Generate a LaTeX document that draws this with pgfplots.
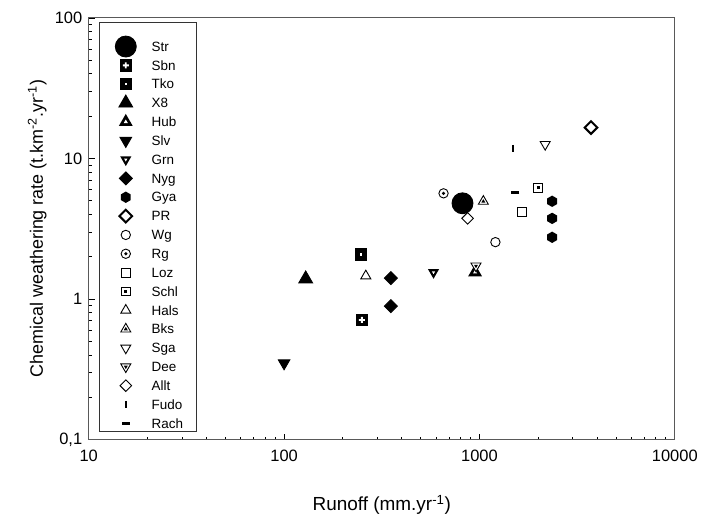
\documentclass[border=0pt]{standalone}
\usepackage{fontspec}
\setmainfont{Liberation Sans}
\usepackage{pgfplots}
\pgfplotsset{compat=1.18}

% triangle path, #1 = scale of the mark size
\newcommand\tripath[1]{%
  \pgfpathmoveto{\pgfpointscale{#1}{\pgfqpoint{0pt}{\pgfplotmarksize}}}%
  \pgfpathlineto{\pgfpointscale{#1}{\pgfqpoint{-.866\pgfplotmarksize}{-.5\pgfplotmarksize}}}%
  \pgfpathlineto{\pgfpointscale{#1}{\pgfqpoint{.866\pgfplotmarksize}{-.5\pgfplotmarksize}}}%
  \pgfpathclose}
\newcommand\sqpath[1]{%
  \pgfpathrectangle{\pgfpointscale{#1}{\pgfqpoint{-\pgfplotmarksize}{-\pgfplotmarksize}}}%
  {\pgfpointscale{#1}{\pgfqpoint{2\pgfplotmarksize}{2\pgfplotmarksize}}}}

\pgfdeclareplotmark{sqplus}{% filled square, white cross
  \sqpath{1}\pgfusepathqfill
  \pgfsetfillcolor{white}%
  \pgfpathrectangle{\pgfqpoint{-.48\pgfplotmarksize}{-.15\pgfplotmarksize}}{\pgfqpoint{.96\pgfplotmarksize}{.3\pgfplotmarksize}}%
  \pgfpathrectangle{\pgfqpoint{-.15\pgfplotmarksize}{-.48\pgfplotmarksize}}{\pgfqpoint{.3\pgfplotmarksize}{.96\pgfplotmarksize}}%
  \pgfusepathqfill}
\pgfdeclareplotmark{sqdot}{% filled square, white dot
  \sqpath{1}\pgfusepathqfill
  \pgfsetfillcolor{white}\sqpath{.2}\pgfusepathqfill}
\pgfdeclareplotmark{tridot}{% filled triangle, white centre
  \tripath{1}\pgfusepathqfill
  \pgfsetfillcolor{white}\tripath{.3}\pgfusepathqfill}
\pgfdeclareplotmark{hexagon*}{%
  \pgfpathmoveto{\pgfqpoint{0pt}{\pgfplotmarksize}}%
  \pgfpathlineto{\pgfqpoint{-.866\pgfplotmarksize}{.5\pgfplotmarksize}}%
  \pgfpathlineto{\pgfqpoint{-.866\pgfplotmarksize}{-.5\pgfplotmarksize}}%
  \pgfpathlineto{\pgfqpoint{0pt}{-\pgfplotmarksize}}%
  \pgfpathlineto{\pgfqpoint{.866\pgfplotmarksize}{-.5\pgfplotmarksize}}%
  \pgfpathlineto{\pgfqpoint{.866\pgfplotmarksize}{.5\pgfplotmarksize}}%
  \pgfpathclose\pgfusepathqfill}
\pgfdeclareplotmark{circdot}{% open circle, dot
  \pgfpathcircle{\pgfpointorigin}{\pgfplotmarksize}\pgfusepathqfillstroke
  \pgfsetfillcolor{black}%
  \pgfpathcircle{\pgfpointorigin}{.38\pgfplotmarksize}\pgfusepathqfill}
\pgfdeclareplotmark{sqodot}{% open square, dot
  \sqpath{1}\pgfusepathqfillstroke
  \pgfsetfillcolor{black}\sqpath{.3}\pgfusepathqfill}
\pgfdeclareplotmark{triotri}{% open triangle, small filled one
  \tripath{1}\pgfusepathqfillstroke
  \pgfsetfillcolor{black}\tripath{.4}\pgfusepathqfill}

\newcommand\lgt[1]{\makebox[40pt][l]{#1}}

\begin{document}
\begin{tikzpicture}
\begin{axis}[
  xmode=log, ymode=log,
  width=588pt, height=423pt, scale only axis,
  xmin=10, xmax=10000, ymin=0.1, ymax=100,
  xtick={10,100,1000,10000}, xticklabels={10,100,1000,10000},
  ytick={0.1,1,10,100}, yticklabels={{0,1},1,10,100},
  xtick pos=bottom, ytick pos=left, tick align=inside,
  major tick length=6pt, minor tick length=3pt,
  axis line style={black!65, line width=0.9pt},
  tick style={black, line width=0.8pt},
  tick label style={font=\fontsize{16.5}{19}\selectfont},
  xticklabel style={yshift=-7pt},
  yticklabel style={xshift=-3pt},
  xlabel={Runoff (mm.yr\textsuperscript{-1})},
  ylabel={Chemical weathering rate (t.km\textsuperscript{-2}.yr\textsuperscript{-1})},
  xlabel style={font=\fontsize{19}{22}\selectfont, at={(axis description cs:0.5,-0.1678)}, anchor=base},
  ylabel style={font=\fontsize{18}{21}\selectfont, at={(axis description cs:-0.0782,0.5)}, anchor=base},
  legend style={draw=none, fill=none, at={(axis description cs:0.0187,0.9439)},
    anchor=north west, inner xsep=0pt, inner ysep=0pt, row sep=9.4pt,
    nodes={inner sep=0pt, text height=9.5pt, text depth=0pt},
    font=\fontsize{13.5}{16}\selectfont},
  legend cell align=left,
  legend image code/.code={\draw[#1, overlay] plot coordinates {(26pt,0pt)};
    \path[draw=none, fill=none] (0pt,-4pt) rectangle (52pt,4pt);},
  every axis plot/.append style={only marks, black, line width=0.9pt},
]
\addplot[mark=*, mark size=10.5] coordinates {(819,4.8)};
\addlegendentry{\lgt{Str}}
\addplot[mark=sqplus, mark size=6.3] coordinates {(250,0.71)};
\addlegendentry{\lgt{Sbn}}
\addplot[mark=sqdot, mark size=6.2] coordinates {(247,2.08)};
\addlegendentry{\lgt{Tko}}
\addplot[mark=triangle*, mark size=8] coordinates {(129,1.39)};
\addlegendentry{\lgt{X8}}
\addplot[mark=tridot, mark size=8] coordinates {(950,1.55)};
\addlegendentry{\lgt{Hub}}
\addplot[mark=triangle*, mark size=6.7, mark options={rotate=180}] coordinates {(100,0.35)};
\addlegendentry{\lgt{Slv}}
\addplot[mark=tridot, mark size=6.5, mark options={rotate=180}] coordinates {(582,1.55)};
\addlegendentry{\lgt{Grn}}
\addplot[mark=square*, mark size=4.6, mark options={rotate=45}] coordinates {(352,1.41) (352,0.89)};
\addlegendentry{\lgt{Nyg}}
\addplot[mark=hexagon*, mark size=5.7] coordinates {(2355,4.96) (2355,3.75) (2355,2.75)};
\addlegendentry{\lgt{Gya}}
\addplot[mark=square, mark size=4.5, line width=2pt, mark options={rotate=45, fill=white}] coordinates {(3724,16.6)};
\addlegendentry{\lgt{PR}}
\addplot[mark=o, mark size=4.7, mark options={fill=white}] coordinates {(1207,2.54)};
\addlegendentry{\lgt{Wg}}
\addplot[mark=circdot, mark size=4.7, mark options={fill=white}] coordinates {(655,5.65)};
\addlegendentry{\lgt{Rg}}
\addplot[mark=square, mark size=4.5, mark options={fill=white}] coordinates {(1656,4.14)};
\addlegendentry{\lgt{Loz}}
\addplot[mark=sqodot, mark size=4.5, mark options={fill=white}] coordinates {(2000,6.22)};
\addlegendentry{\lgt{Schl}}
\addplot[mark=triangle, mark size=5.8, mark options={fill=white}] coordinates {(262,1.46)};
\addlegendentry{\lgt{Hals}}
\addplot[mark=triotri, mark size=5.8, mark options={fill=white}] coordinates {(1047,4.95)};
\addlegendentry{\lgt{Bks}}
\addplot[mark=triangle, mark size=5.8, mark options={rotate=180, fill=white}] coordinates {(2170,12.6)};
\addlegendentry{\lgt{Sga}}
\addplot[mark=triotri, mark size=5.8, mark options={rotate=180, fill=white}] coordinates {(960,1.72)};
\addlegendentry{\lgt{Dee}}
\addplot[mark=square, mark size=4.1, mark options={rotate=45, fill=white}] coordinates {(869,3.75)};
\addlegendentry{\lgt{Allt}}
\addplot[mark=|, mark size=3.5, line width=2.2pt] coordinates {(1489,11.8)};
\addlegendentry{\lgt{Fudo}}
\addplot[mark=-, mark size=4, line width=2.5pt] coordinates {(1527,5.74)};
\addlegendentry{\lgt{Rach}}
\draw[black!80, line width=0.9pt] (axis description cs:0.0187,0.0189) rectangle (axis description cs:0.1837,0.9882);
\end{axis}
\path ([shift={(-89pt,-75pt)}]current axis.south west) rectangle ++(701pt,516pt);
\end{tikzpicture}
\end{document}
